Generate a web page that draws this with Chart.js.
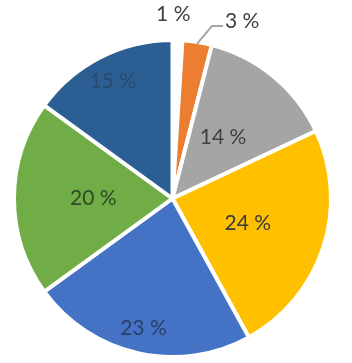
<!DOCTYPE html>
<html>
<head>
<meta charset="utf-8">
<script src="https://cdn.jsdelivr.net/npm/chart.js@4/dist/chart.umd.min.js"></script>
<style>
html,body{margin:0;padding:0;background:#fff;}
#wrap{position:relative;width:352px;height:363px;}
</style>
</head>
<body>
<div id="wrap"><canvas id="c"></canvas></div>
<script>
// Data
const categories = ["A", "B", "C", "D", "E", "F", "G"];
const values = [1, 3, 14, 24, 23, 20, 15];
const valueLabels = ["1 %", "3 %", "14 %", "24 %", "23 %", "20 %", "15 %"];
const colors = ["#ffffff", "#ED7D31", "#A5A5A5", "#FFC000", "#4472C4", "#70AD47", "#2B5E93"];
const labelColors = ["#404040", "#404040", "#404040", "#3a3a3a", "#2c3f66", "#2f4a24", "#274a70"];
// label placement: fraction of radius (inside) or outside styles
const labelPlacement = ["out1", "out3", 0.5, 0.5, 0.84, 0.5, 0.83];

const labelPlugin = {
  id: 'sliceLabels',
  afterDatasetsDraw(chart) {
    const ctx = chart.ctx;
    const meta = chart.getDatasetMeta(0);
    ctx.save();
    ctx.font = '21px Lato, "DejaVu Sans", sans-serif';
    ctx.textBaseline = 'middle';
    meta.data.forEach((arc, i) => {
      const p = arc.getProps(['x', 'y', 'startAngle', 'endAngle', 'outerRadius'], true);
      const mid = (p.startAngle + p.endAngle) / 2;
      const pl = labelPlacement[i];
      ctx.fillStyle = labelColors[i];
      if (typeof pl === 'number') {
        const r = p.outerRadius * pl;
        ctx.textAlign = 'center';
        ctx.fillText(valueLabels[i], p.x + Math.cos(mid) * r, p.y + Math.sin(mid) * r);
      } else if (pl === 'out1') {
        const r = p.outerRadius + 26;
        ctx.textAlign = 'center';
        ctx.fillText(valueLabels[i], p.x + Math.cos(mid) * r - 5, p.y + Math.sin(mid) * r);
      } else if (pl === 'out3') {
        const sx = p.x + Math.cos(mid) * (p.outerRadius - 2);
        const sy = p.y + Math.sin(mid) * (p.outerRadius - 2);
        const ex = sx + 15, ey = sy - 18;
        ctx.strokeStyle = '#A6A6A6';
        ctx.lineWidth = 2;
        ctx.beginPath();
        ctx.moveTo(sx, sy);
        ctx.lineTo(ex, ey);
        ctx.lineTo(ex + 11, ey);
        ctx.stroke();
        ctx.textAlign = 'left';
        ctx.fillText(valueLabels[i], ex + 13, ey - 5);
      }
    });
    ctx.restore();
  }
};

new Chart(document.getElementById('c'), {
  type: 'pie',
  data: {
    labels: categories,
    datasets: [{
      data: values,
      backgroundColor: colors,
      borderColor: '#ffffff',
      borderWidth: 4
    }]
  },
  options: {
    responsive: true,
    maintainAspectRatio: false,
    animation: false,
    layout: { padding: { top: 38, bottom: 4, left: 12, right: 19 } },
    plugins: { legend: { display: false }, tooltip: { enabled: false } }
  },
  plugins: [labelPlugin]
});
</script>
</body>
</html>
